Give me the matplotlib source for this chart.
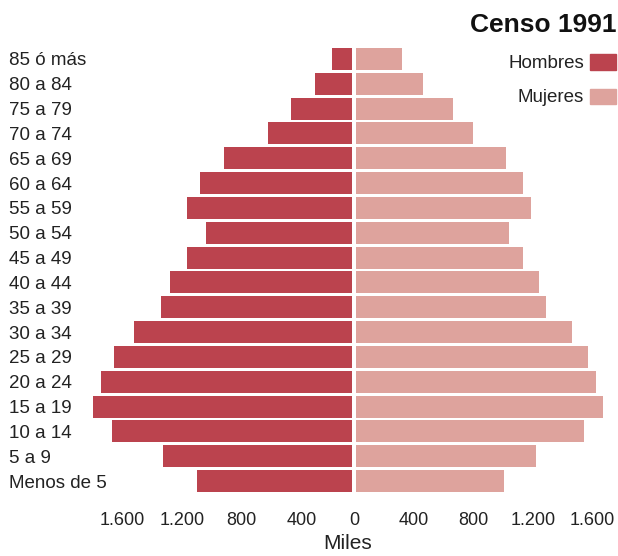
import numpy as np
import matplotlib
matplotlib.use("Agg")
from matplotlib import pyplot as plt
from matplotlib.patches import Rectangle
from matplotlib.transforms import ScaledTranslation

plt.rcParams['font.family'] = ['Liberation Sans', 'DejaVu Sans']

grupos = ["85 ó más", "80 a 84", "75 a 79", "70 a 74", "65 a 69", "60 a 64",
          "55 a 59", "50 a 54", "45 a 49", "40 a 44", "35 a 39", "30 a 34",
          "25 a 29", "20 a 24", "15 a 19", "10 a 14", "5 a 9", "Menos de 5"]
hombres = [135, 250, 410, 565, 860, 1020, 1110, 980, 1110, 1220, 1280, 1465,
           1600, 1685, 1740, 1610, 1270, 1040]
mujeres = [310, 450, 650, 785, 1005, 1120, 1175, 1025, 1120, 1230, 1275, 1450,
           1555, 1610, 1660, 1530, 1210, 995]
ticks = [-1600, -1200, -800, -400, 0, 400, 800, 1200, 1600]
tick_labels = ["1.600", "1.200", "800", "400", "0", "400", "800", "1.200", "1.600"]

c_h = "#BB434E"
c_m = "#DEA39D"

W, H = 618, 556
fig = plt.figure(figsize=(W/100, H/100), dpi=100)

# axes placed in pixels: zero at x=354, ~0.149 px per unit
scale = 0.149
x0, x1 = 86, 610
top, bot = 46.5, 493.5
ax = fig.add_axes([x0/W, 1 - bot/H, (x1-x0)/W, (bot-top)/H])
ax.set_xlim((x0-354)/scale, (x1-354)/scale)
ax.set_ylim(len(grupos)-0.5, -0.5)

gap = 13
y = np.arange(len(grupos))
ax.barh(y, -np.array(hombres), left=-gap, height=0.89, color=c_h)
ax.barh(y, mujeres, left=gap, height=0.89, color=c_m)

for s in ax.spines.values():
    s.set_visible(False)

ax.set_xticks(ticks)
ax.set_xticklabels(tick_labels, fontsize=13, color="#222222")
ax.tick_params(axis='x', length=0, pad=13)
# left-side labels sit a little closer to the centre in the original
for lab, t in zip(ax.get_xticklabels(), ticks):
    if t < 0:
        lab.set_transform(lab.get_transform() + ScaledTranslation(7/100, 0, fig.dpi_scale_trans))
ax.set_xlabel("Miles", fontsize=15, color="#222222", labelpad=4)

ax.set_yticks(y)
ax.set_yticklabels(grupos, fontsize=13.5, color="#222222", ha='left')
ax.tick_params(axis='y', length=0, pad=(x0-9)*0.72)

fig.text(616/W, 1-23/H, "Censo 1991", fontsize=19, fontweight='bold',
         ha='right', va='center_baseline', color="#111111")

for txt, col, yc in [("Hombres", c_h, 62), ("Mujeres", c_m, 96)]:
    fig.text(584/W, 1-yc/H, txt, fontsize=13.5, ha='right', va='center_baseline', color="#222222")
    fig.patches.append(Rectangle((590/W, 1-(yc+7.5)/H), 26/W, 15/H,
                                 transform=fig.transFigure, color=col, figure=fig))

fig.savefig("out.png", dpi=100)
